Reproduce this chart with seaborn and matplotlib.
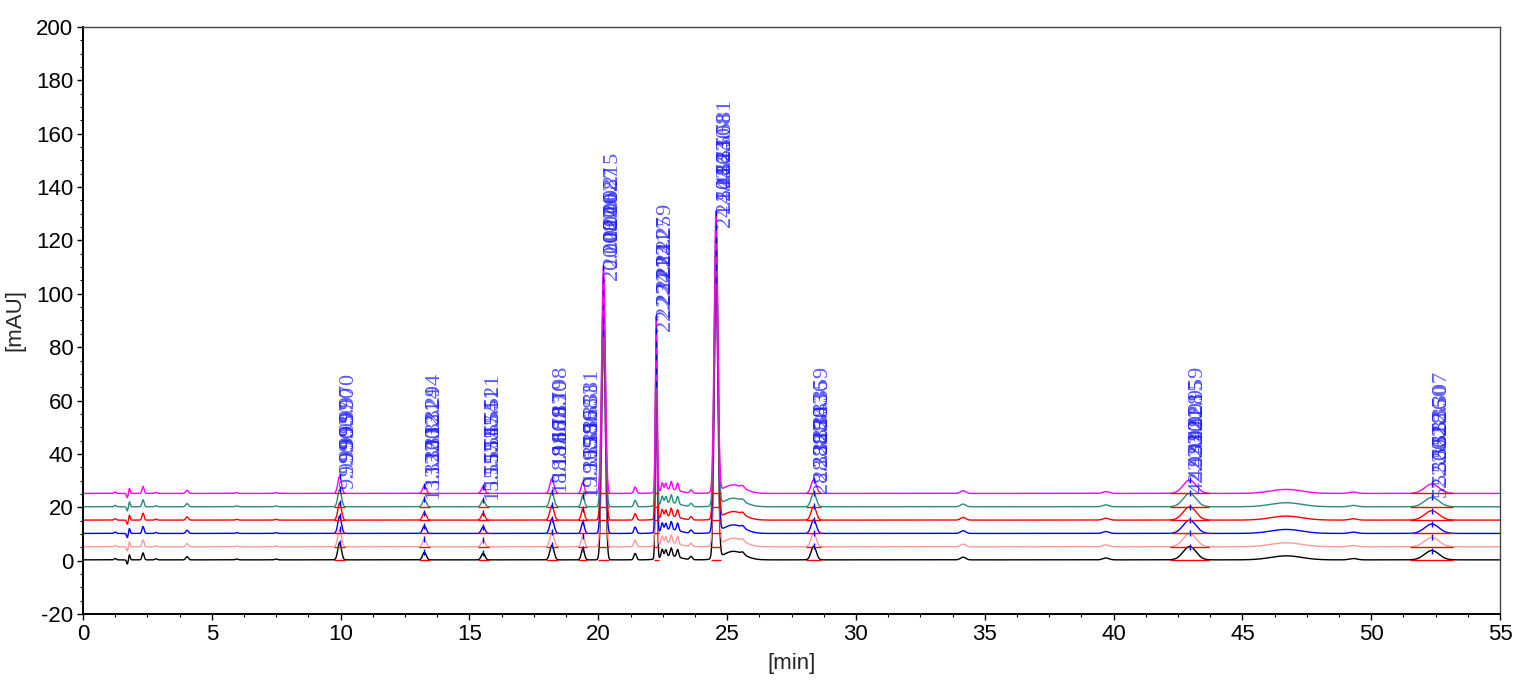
import numpy as np
import pandas as pd
import matplotlib
matplotlib.use("Agg")
import matplotlib.pyplot as plt
import seaborn as sns
from matplotlib.ticker import MultipleLocator

# --- traces (six injections, stacked by a constant offset) ---
trace_names = ["run 1", "run 2", "run 3", "run 4", "run 5", "run 6"]
trace_colors = ["#000000", "#ff9a9a", "#0000ff", "#ff0000", "#2a8c80", "#ff00ff"]
trace_offsets = [0.3, 5.2, 10.2, 15.2, 20.2, 25.2]

# --- integrated (labelled) peaks: retention time [min], height [mAU], width [min] ---
peak_rt = [9.96, 13.25, 15.53, 18.20, 19.40, 20.20, 22.25, 24.57, 28.36, 42.95, 52.35]
peak_height = [6.5, 2.8, 2.5, 5.5, 4.2, 85.0, 66.0, 105.0, 5.1, 5.0, 3.5]
peak_sigma = [0.07, 0.07, 0.07, 0.08, 0.06, 0.07, 0.035, 0.07, 0.10, 0.25, 0.28]

# --- small unlabelled features of the baseline ---
minor_rt = [1.25, 1.72, 1.80, 2.33, 2.83, 4.04, 5.97, 7.50, 21.43, 22.48, 22.62,
            22.83, 23.08, 23.60, 22.80, 25.25, 25.60, 34.16, 39.70, 46.70, 49.30]
minor_height = [0.5, -1.6, 1.9, 2.6, 0.4, 1.2, 0.3, 0.3, 2.4, 3.0, 2.5,
                3.0, 2.8, 1.2, 1.5, 3.2, 0.8, 1.0, 0.7, 1.5, 0.5]
minor_sigma = [0.04, 0.03, 0.03, 0.04, 0.04, 0.05, 0.05, 0.05, 0.05, 0.04, 0.04,
               0.04, 0.04, 0.05, 0.35, 0.40, 0.06, 0.10, 0.12, 0.60, 0.15]

# --- retention time labels, one list per run ---
peak_labels = [
    ["9.970", "13.294", "15.521", "18.198", "19.381", "20.215", "22.259", "24.581", "28.359", "42.959", "52.307"],
    ["9.990", "13.324", "15.551", "18.170", "19.353", "20.087", "22.227", "24.508", "28.336", "42.915", "52.350"],
    ["9.997", "13.321", "15.554", "18.183", "19.368", "20.062", "22.241", "24.530", "28.343", "42.928", "52.336"],
    ["9.993", "13.312", "15.547", "18.179", "19.356", "20.040", "22.233", "24.523", "28.330", "42.921", "52.318"],
    ["9.990", "13.300", "15.551", "18.166", "19.358", "20.027", "22.221", "24.486", "28.325", "42.910", "52.362"],
    ["9.999", "13.322", "15.557", "18.191", "19.365", "20.008", "22.234", "24.503", "28.338", "42.933", "52.300"],
]

time = np.linspace(0, 55, 11001)


def trace_signal(offset):
    y = np.full_like(time, offset)
    for rt, h, s in zip(peak_rt + minor_rt, peak_height + minor_height, peak_sigma + minor_sigma):
        y += h * np.exp(-0.5 * ((time - rt) / s) ** 2)
    return y


frames = []
for name, off in zip(trace_names, trace_offsets):
    frames.append(pd.DataFrame({"time": time, "signal": trace_signal(off), "trace": name}))
df = pd.concat(frames, ignore_index=True)

sns.set_theme(style="ticks")
plt.rcParams["font.family"] = ["Liberation Sans", "DejaVu Sans"]
plt.rcParams["axes.unicode_minus"] = False

fig = plt.figure(figsize=(15.26, 6.83), dpi=100)
ax = fig.add_axes([0.0544, 0.101, 0.9286, 0.8595])

sns.lineplot(data=df, x="time", y="signal", hue="trace", hue_order=trace_names,
             palette=dict(zip(trace_names, trace_colors)), estimator=None, sort=False,
             legend=False, linewidth=1.0, ax=ax)

# integration baselines, apex marks and labels
label_base = 45.4
for i, off in enumerate(trace_offsets):
    for k, (rt, h, s) in enumerate(zip(peak_rt, peak_height, peak_sigma)):
        ax.hlines(off, rt - 3.0 * s, rt + 3.0 * s, color="red", lw=1.0, zorder=2.5)
        ax.plot(rt, off + h, marker="|", ms=5, mew=1, color="blue", zorder=2.6)
        ax.text(rt - 0.02, h + label_base - off, peak_labels[i][k], rotation=90,
                ha="left", va="bottom", fontsize=16, family="Liberation Serif",
                color="#1c1cff", alpha=0.72, zorder=3)

ax.set_xlim(0, 55)
ax.set_ylim(-20, 200)
ax.xaxis.set_major_locator(MultipleLocator(5))
ax.xaxis.set_minor_locator(MultipleLocator(1.25))
ax.yaxis.set_major_locator(MultipleLocator(20))
ax.yaxis.set_minor_locator(MultipleLocator(5))
ax.tick_params(which="major", direction="out", length=4, width=1, labelsize=16,
               colors="black", pad=3)
ax.tick_params(which="minor", direction="out", length=2, width=0.8, colors="black")
for side in ["top", "right"]:
    ax.spines[side].set_visible(True)
    ax.spines[side].set_color("#444444")
    ax.spines[side].set_linewidth(1.0)
for side in ["left", "bottom"]:
    ax.spines[side].set_color("black")
    ax.spines[side].set_linewidth(1.4)

ax.set_xlabel("[min]", fontsize=16, labelpad=6)
ax.set_ylabel("[mAU]", fontsize=16, labelpad=8)

fig.savefig("out.png", dpi=100, facecolor="white")
